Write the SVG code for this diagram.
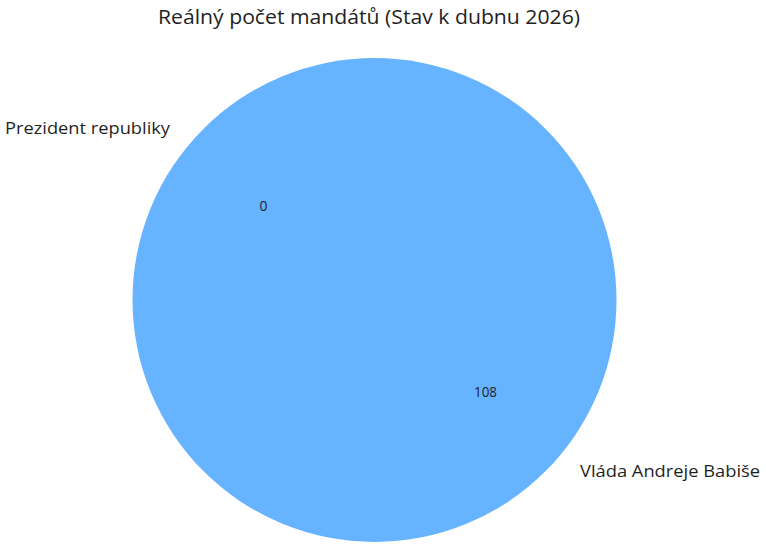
<svg xmlns="http://www.w3.org/2000/svg" width="766" height="560" viewBox="0 0 766 560">
<style>
text{font-family:"Open Sans",Roboto,"Liberation Sans",sans-serif;fill:#1f1f1f}
.title{font-size:20px}
.lbl{font-size:16px}
.val{font-size:14px}
</style>
<rect width="766" height="560" fill="#ffffff"/>
<text class="title" x="158" y="24" textLength="422" lengthAdjust="spacingAndGlyphs">Reálný počet mandátů (Stav k dubnu 2026)</text>
<g id="slice-vlada">
<circle cx="374.5" cy="300" r="242" fill="#66b3ff"/>
<text class="val" x="474" y="397" textLength="23" lengthAdjust="spacingAndGlyphs">108</text>
<text class="lbl" x="580" y="477" textLength="180" lengthAdjust="spacingAndGlyphs">Vláda Andreje Babiše</text>
</g>
<g id="slice-prezident">
<text class="val" x="263.5" y="211" text-anchor="middle">0</text>
<text class="lbl" x="5" y="134" textLength="165" lengthAdjust="spacingAndGlyphs">Prezident republiky</text>
</g>
<g id="connectors"/>
</svg>
